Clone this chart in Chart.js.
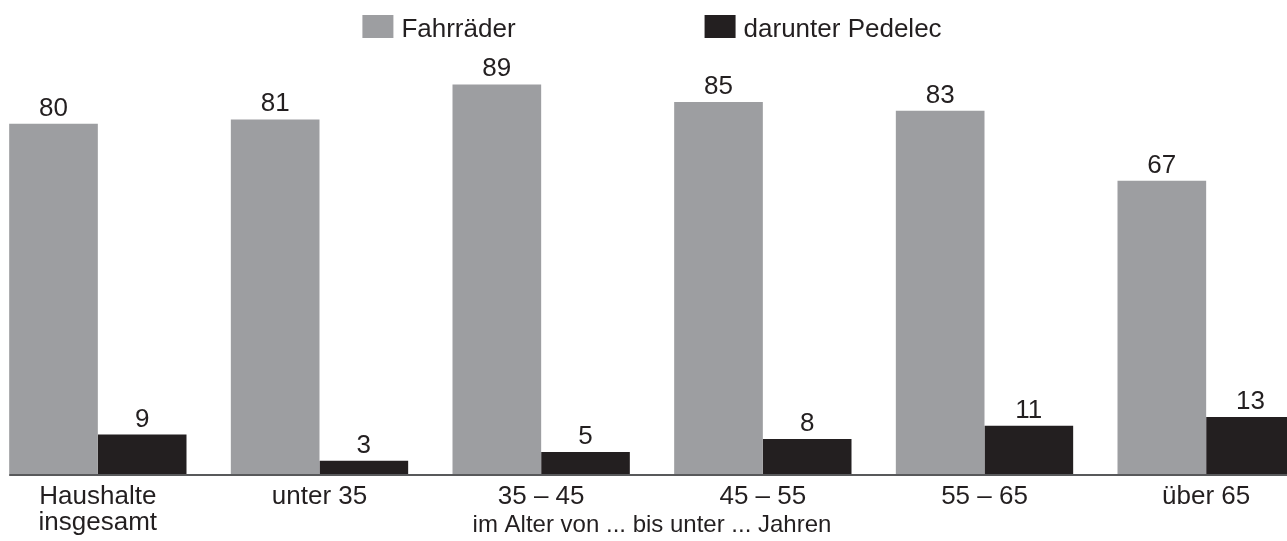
<!DOCTYPE html>
<html>
<head>
<meta charset="utf-8">
<script src="https://cdn.jsdelivr.net/npm/chart.js@4.4.1/dist/chart.umd.min.js"></script>
<style>
  html, body { margin: 0; padding: 0; background: #fff; overflow: hidden; }
  body { width: 1287px; height: 541px; position: relative; }
  /* chart is a bit wider than the window so the outer bars sit at the edges */
  #wrap { position: absolute; left: -13px; top: 0; width: 1330px; height: 541px; }
</style>
</head>
<body>
<div id="wrap"><canvas id="bikeChart"></canvas></div>
<script>
const categories = [['Haushalte', 'insgesamt'], 'unter 35', '35 – 45', '45 – 55', '55 – 65', 'über 65'];
const fahrraeder = [80, 81, 89, 85, 83, 67];
const pedelec = [9, 3, 5, 8, 11, 13];
const seriesNames = ['Fahrräder', 'darunter Pedelec'];
const axisTitle = 'im Alter von ... bis unter ... Jahren';

const GREY = '#9d9ea1';
const BLACK = '#231f20';
const TEXT = '#231f20';
const FONT_FAMILY = '"Liberation Sans", Arial, sans-serif';
const FONT_SIZE = 26;

// labels, baseline, axis title and legend drawn on top of the bars
const overlay = {
  id: 'overlay',
  afterDatasetsDraw(chart) {
    const ctx = chart.ctx;
    ctx.save();
    ctx.font = FONT_SIZE + 'px ' + FONT_FAMILY;
    ctx.fillStyle = TEXT;

    // value labels
    ctx.textAlign = 'center';
    ctx.textBaseline = 'alphabetic';
    chart.data.datasets.forEach((ds, i) => {
      chart.getDatasetMeta(i).data.forEach((bar, j) => {
        ctx.fillText(String(ds.data[j]), bar.x, bar.y - 8);
      });
    });

    // baseline from first to last bar
    const first = chart.getDatasetMeta(0).data[0];
    const lastBars = chart.getDatasetMeta(1).data;
    const last = lastBars[lastBars.length - 1];
    const y0 = chart.scales.y.getPixelForValue(0);
    ctx.strokeStyle = '#58595b';
    ctx.lineWidth = 2;
    ctx.beginPath();
    ctx.moveTo(first.x - first.width / 2, y0 + 1);
    ctx.lineTo(last.x + last.width / 2, y0 + 1);
    ctx.stroke();

    // legend
    const boxW = 31, boxH = 23, gap = 8, spacing = 189;
    const colors = [GREY, BLACK];
    const widths = seriesNames.map(n => ctx.measureText(n).width);
    const total = boxW * 2 + gap * 2 + widths[0] + widths[1] + spacing;
    let x = chart.width / 2 - total / 2;
    ctx.textAlign = 'left';
    seriesNames.forEach((name, i) => {
      ctx.fillStyle = colors[i];
      ctx.fillRect(x, 15, boxW, boxH);
      ctx.fillStyle = TEXT;
      ctx.fillText(name, x + boxW + gap, 37);
      x += boxW + gap + widths[i] + spacing;
    });

    // axis title (slightly smaller)
    ctx.font = '24px ' + FONT_FAMILY;
    ctx.textAlign = 'center';
    ctx.fillText(axisTitle, chart.width / 2, 532);
    ctx.restore();
  }
};

const ctx = document.getElementById('bikeChart').getContext('2d');
new Chart(ctx, {
  type: 'bar',
  data: {
    labels: categories,
    datasets: [
      { label: seriesNames[0], data: fahrraeder, backgroundColor: GREY },
      { label: seriesNames[1], data: pedelec, backgroundColor: BLACK }
    ]
  },
  options: {
    responsive: true,
    maintainAspectRatio: false,
    animation: false,
    layout: { padding: { top: 80, bottom: -5, left: 0, right: 0 } },
    datasets: {
      bar: { barPercentage: 1, categoryPercentage: 0.8 }
    },
    plugins: {
      legend: { display: false },
      tooltip: { enabled: false }
    },
    scales: {
      x: {
        grid: { display: false, drawTicks: false },
        border: { display: false },
        ticks: {
          color: TEXT,
          padding: 10,
          maxRotation: 0,
          autoSkip: false,
          font: { family: FONT_FAMILY, size: FONT_SIZE, lineHeight: 1.0 }
        }
      },
      y: {
        display: false,
        min: 0,
        max: 90
      }
    }
  },
  plugins: [overlay]
});
</script>
</body>
</html>
